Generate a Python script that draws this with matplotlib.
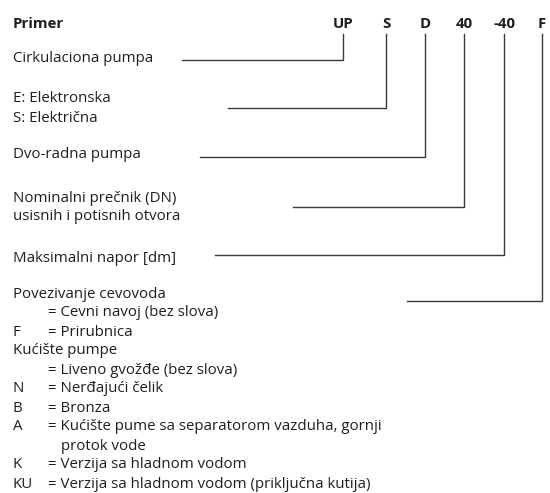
import matplotlib.pyplot as plt

plt.rcParams['font.family'] = ['Open Sans', 'DejaVu Sans']

# oznaka pumpe
codes = ['UP', 'S', 'D', '40', '-40', 'F']
# opis svakog dela oznake (vise redova)
descriptions = [
    ['Cirkulaciona pumpa'],
    ['E: Elektronska', 'S: Električna'],
    ['Dvo-radna pumpa'],
    ['Nominalni prečnik (DN)', 'usisnih i potisnih otvora'],
    ['Maksimalni napor [dm]'],
    ['Povezivanje cevovoda'],
]
# legenda na dnu: (slovo, opis)
bottom_rows = [
    ('', '= Cevni navoj (bez slova)'),
    ('F', '= Prirubnica'),
    (None, 'Kućište pumpe'),
    ('', '= Liveno gvožđe (bez slova)'),
    ('N', '= Nerđajući čelik'),
    ('B', '= Bronza'),
    ('A', '= Kućište pume sa separatorom vazduha, gornji'),
    ('+', 'protok vode'),
    ('K', '= Verzija sa hladnom vodom'),
    ('KU', '= Verzija sa hladnom vodom (priključna kutija)'),
]

# raspored (pikseli)
code_x = [343, 386, 425, 464, 504, 542]
line_top = 34
desc_y = [57, 97, 153, 196, 256, 292]
line_y = [60, 108, 157, 207, 255, 301]
line_start = [182, 228, 200, 293, 215, 407]
step = 19

txt = '#1e1e1e'
lc = '#3a3a3a'
fs = 10.8

fig = plt.figure(figsize=(5.5, 4.93), dpi=100)
ax = fig.add_axes([0, 0, 1, 1])
ax.set_xlim(0, 550)
ax.set_ylim(493, 0)
ax.axis('off')

ax.text(13, 22, 'Primer', fontsize=fs, fontweight='bold', color=txt,
        va='center_baseline', ha='left')
for c, x in zip(codes, code_x):
    ax.text(x, 22, c, fontsize=fs, fontweight='bold', color=txt,
            va='center_baseline', ha='center')

for i, lines in enumerate(descriptions):
    for j, s in enumerate(lines):
        ax.text(13, desc_y[i] + j * step, s, fontsize=fs, color=txt,
                va='center_baseline', ha='left')
    x = code_x[i]
    ax.plot([line_start[i], x, x], [line_y[i], line_y[i], line_top],
            color=lc, lw=1.0, solid_joinstyle='miter')

y = desc_y[-1]
for letter, s in bottom_rows:
    y += step
    if letter is None:
        ax.text(13, y, s, fontsize=fs, color=txt, va='center_baseline')
        continue
    if letter == '+':
        # nastavak reda, poravnat sa tekstom iza "= "
        ax.text(61, y, s, fontsize=fs, color=txt, va='center_baseline')
        continue
    if letter:
        ax.text(13, y, letter, fontsize=fs, color=txt, va='center_baseline')
    ax.text(48, y, s, fontsize=fs, color=txt, va='center_baseline')

fig.savefig('out.png', dpi=100, facecolor='white')
